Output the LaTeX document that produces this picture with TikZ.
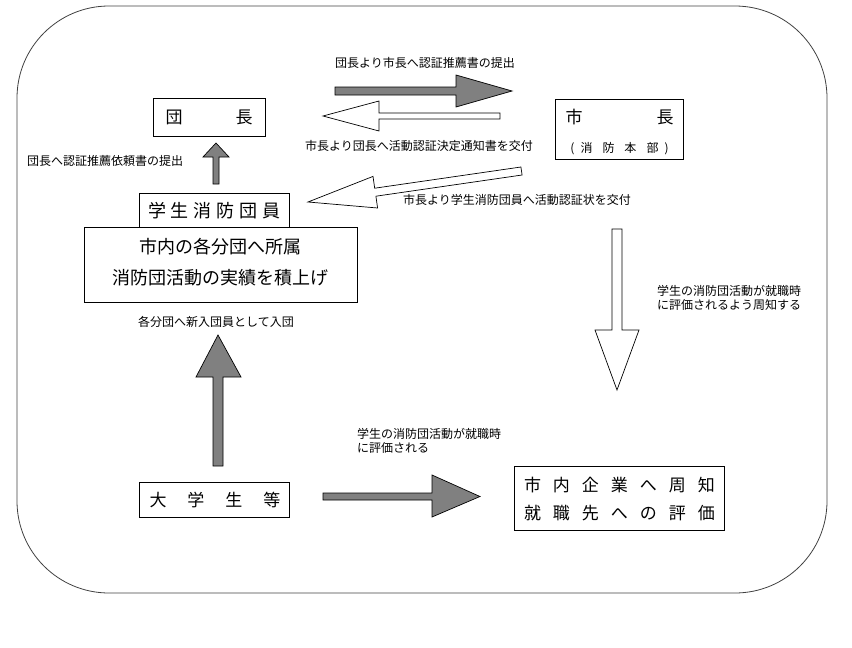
\documentclass[tikz,border=0pt]{standalone}
\usepackage{fontspec}
\setmainfont{Noto Sans CJK JP}
\newcommand\hgap[1]{\hskip#1pt\relax}
\begin{document}
\begin{tikzpicture}[x=1pt,y=-1pt,
  box/.style={draw=black, line width=0.8pt, inner sep=0pt, fill=white},
  bigtext/.style={inner sep=0pt, font=\fontsize{17}{20}\selectfont},
  smalltext/.style={inner sep=0pt, font=\fontsize{12}{14}\selectfont, align=left},
  grayarrow/.style={draw=black, line width=0.7pt, fill=gray, line join=miter},
  whitearrow/.style={draw=black, line width=0.7pt, fill=white, line join=miter}]
\useasboundingbox (0,0) rectangle (852,648);
% outer frame
\draw[black!75, line width=0.8pt, rounded corners=92pt] (17,6) rectangle (827,593);

% boxes
\node[box, minimum width=112pt, minimum height=38pt] (dancho) at (209,117) {};
\node[bigtext] (danchotxt) at (209,117) {団\hgap{53}長};

\node[box, minimum width=128pt, minimum height=60pt] (shicho) at (619,129) {};
\node[bigtext] (shichotxt) at (619.5,117) {市\hgap{74}長};
\node[inner sep=0pt, font=\fontsize{12}{14}\selectfont] (honbu) at (619.5,149) {(\hgap{6}消\hgap{10}防\hgap{10}本\hgap{10}部\hgap{6})};

\node[box, minimum width=273pt, minimum height=75pt] (shonai) at (220.5,264.5) {};
\node[inner sep=0pt, font=\fontsize{18}{31}\selectfont, align=center] (shonaitxt) at (220,262) {市内の各分団へ所属\\消防団活動の実績を積上げ};

\node[box, minimum width=150pt, minimum height=34pt] (gakusei) at (214,210) {};
\node[inner sep=0pt, font=\fontsize{18}{20}\selectfont] (gakuseitxt) at (214.5,211) {学\hgap{5}生\hgap{5}消\hgap{5}防\hgap{5}団\hgap{5}員};

\node[box, minimum width=150pt, minimum height=35pt] (daigaku) at (214,499.5) {};
\node[bigtext] (daigakutxt) at (215,500) {大\hgap{21}学\hgap{21}生\hgap{21}等};

\node[box, minimum width=210pt, minimum height=64pt] (kigyo) at (619,498) {};
\node[inner sep=0pt, font=\fontsize{17}{28}\selectfont, align=center] (kigyotxt) at (619.5,499) {市\hgap{12}内\hgap{12}企\hgap{12}業\hgap{12}へ\hgap{12}周\hgap{12}知\\就\hgap{12}職\hgap{12}先\hgap{12}へ\hgap{12}の\hgap{12}評\hgap{12}価};

% block arrows
% dancho -> shicho (gray, right)
\draw[grayarrow] (335,87) -- (456,87) -- (456,75) -- (512,91) -- (456,107) -- (456,95) -- (335,95) -- cycle;
% shicho -> dancho (white, left)
\draw[whitearrow] (500,113) -- (379,113) -- (379,101) -- (323,116) -- (379,131) -- (379,119) -- (500,119) -- cycle;
% gakusei -> dancho (gray, up)
\draw[grayarrow] (213,184) -- (213,157) -- (203,157) -- (216,143) -- (229,157) -- (219,157) -- (219,184) -- cycle;
% shicho -> gakusei (white, diagonal)
\draw[whitearrow] (520.9,167.0) -- (374.7,188.2) -- (373.0,176.4) -- (308,202) -- (377.6,208.0) -- (375.9,196.2) -- (522.1,175.0) -- cycle;
% shicho -> kigyo (white, down)
\draw[whitearrow] (612,229) -- (612,330) -- (595,330) -- (617,390) -- (639,330) -- (622,330) -- (622,229) -- cycle;
% daigaku -> shonai (gray, up)
\draw[grayarrow] (213,466) -- (213,377) -- (196,377) -- (218,335) -- (241,377) -- (223,377) -- (223,466) -- cycle;
% daigaku -> kigyo (gray, right)
\draw[grayarrow] (323,493) -- (432,493) -- (432,475) -- (480,496.5) -- (432,517) -- (432,500) -- (323,500) -- cycle;

% labels
\node[smalltext] (l1) at (425,63) {団長より市長へ認証推薦書の提出};
\node[smalltext] (l2) at (419,146) {市長より団長へ活動認証決定通知書を交付};
\node[smalltext, anchor=west] (l3) at (27,161) {団長へ認証推薦依頼書の提出};
\node[smalltext, anchor=west] (l4) at (403,200) {市長より学生消防団員へ活動認証状を交付};
\node[smalltext, anchor=west] (l5) at (657,298) {学生の消防団活動が就職時\\に評価されるよう周知する};
\node[smalltext, anchor=west] (l6) at (138,322) {各分団へ新入団員として入団};
\node[smalltext, anchor=west] (l7) at (357,441) {学生の消防団活動が就職時\\に評価される};
\end{tikzpicture}
\end{document}
